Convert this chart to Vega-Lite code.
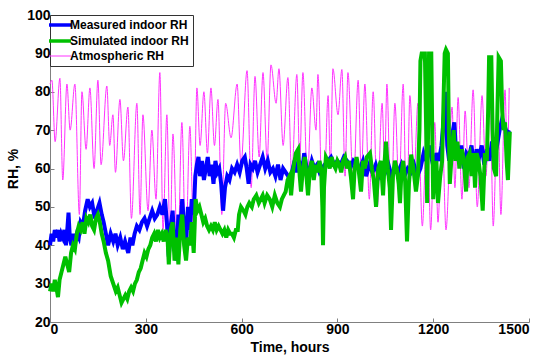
{
  "$schema": "https://vega.github.io/schema/vega-lite/v6.json",
  "width": 479,
  "height": 307,
  "autosize": {"type": "none"},
  "padding": {"left": 50, "top": 15, "right": 21, "bottom": 38},
  "background": "white",
  "config": {
    "view": {"stroke": null},
    "font": "Liberation Sans",
    "axis": {
      "grid": false,
      "domainColor": "#808080",
      "domainWidth": 1,
      "tickColor": "#808080",
      "tickSize": -4,
      "labelPadding": 4,
      "labelFont": "Liberation Sans",
      "labelFontSize": 14,
      "labelFontWeight": "bold",
      "labelColor": "black",
      "titleFont": "Liberation Sans",
      "titleFontSize": 14,
      "titleFontWeight": "bold",
      "titleColor": "black"
    }
  },
  "datasets": {
    "atm": [
      {"t":0,"v":82},{"t":6,"v":83},{"t":16,"v":67},{"t":31,"v":83.5},{"t":40,"v":57},{"t":53,"v":82},{"t":63,"v":70},{"t":78,"v":82},{"t":92,"v":48},{"t":100,"v":80},{"t":113,"v":65},{"t":125,"v":81},{"t":138,"v":60},{"t":150,"v":83},{"t":160,"v":61},{"t":178,"v":81.5},{"t":187,"v":66},{"t":197,"v":74},{"t":205,"v":59},{"t":219,"v":78},{"t":230,"v":62},{"t":244,"v":76},{"t":255,"v":47},{"t":272,"v":77},{"t":282,"v":48},{"t":291,"v":74},{"t":307,"v":49},{"t":319,"v":70},{"t":332,"v":52},{"t":344,"v":85},{"t":354,"v":44},{"t":366,"v":74},{"t":376,"v":40},{"t":385,"v":69},{"t":400,"v":36},{"t":413,"v":72},{"t":425,"v":38},{"t":438,"v":71},{"t":450,"v":42},{"t":460,"v":81},{"t":470,"v":66},{"t":482,"v":80},{"t":493,"v":64},{"t":504,"v":81},{"t":515,"v":66},{"t":526,"v":78},{"t":538,"v":48},{"t":550,"v":77},{"t":567,"v":68},{"t":586,"v":82},{"t":598,"v":61},{"t":617,"v":85.5},{"t":630,"v":55},{"t":642,"v":84},{"t":655,"v":63},{"t":667,"v":85},{"t":680,"v":62},{"t":692,"v":87},{"t":708,"v":77},{"t":717,"v":86},{"t":730,"v":66},{"t":745,"v":83.7},{"t":757,"v":58},{"t":773,"v":84.5},{"t":782,"v":62},{"t":792,"v":85},{"t":806,"v":57},{"t":820,"v":81},{"t":833,"v":70},{"t":839,"v":84.5},{"t":855,"v":43},{"t":871,"v":79},{"t":878,"v":60},{"t":886,"v":86},{"t":902,"v":74},{"t":914,"v":85.8},{"t":924,"v":58},{"t":933,"v":85},{"t":950,"v":55},{"t":965,"v":83},{"t":975,"v":58},{"t":986,"v":82},{"t":1000,"v":52},{"t":1012,"v":80},{"t":1025,"v":50},{"t":1040,"v":77},{"t":1048,"v":60},{"t":1055,"v":82},{"t":1068,"v":46},{"t":1080,"v":77},{"t":1093,"v":55},{"t":1106,"v":82},{"t":1117,"v":44},{"t":1127,"v":79},{"t":1140,"v":58},{"t":1152,"v":77},{"t":1166,"v":45},{"t":1181,"v":74.5},{"t":1192,"v":44},{"t":1205,"v":72},{"t":1215,"v":46},{"t":1228,"v":71},{"t":1240,"v":44},{"t":1259,"v":76},{"t":1268,"v":55},{"t":1278,"v":78.5},{"t":1290,"v":52},{"t":1300,"v":75},{"t":1312,"v":55},{"t":1325,"v":80.5},{"t":1338,"v":50},{"t":1353,"v":79},{"t":1365,"v":58},{"t":1378,"v":79},{"t":1388,"v":45},{"t":1402,"v":78},{"t":1412,"v":48},{"t":1425,"v":80.5},{"t":1432,"v":62},{"t":1438,"v":81}
    ],
    "meas": [
      {"t":0,"v":40},{"t":5,"v":43},{"t":10,"v":41},{"t":15,"v":44},{"t":20,"v":42},{"t":25,"v":44},{"t":30,"v":41},{"t":35,"v":43},{"t":40,"v":42},{"t":45,"v":44},{"t":50,"v":40},{"t":55,"v":45},{"t":58,"v":48.5},{"t":62,"v":42},{"t":67,"v":40},{"t":72,"v":43},{"t":78,"v":41},{"t":84,"v":43},{"t":90,"v":42},{"t":96,"v":46},{"t":103,"v":45},{"t":110,"v":49},{"t":118,"v":52},{"t":125,"v":50},{"t":132,"v":51},{"t":140,"v":47},{"t":147,"v":49},{"t":155,"v":51},{"t":162,"v":48},{"t":168,"v":46},{"t":175,"v":43},{"t":182,"v":40},{"t":190,"v":43},{"t":198,"v":41},{"t":205,"v":43},{"t":212,"v":40},{"t":220,"v":42},{"t":228,"v":39},{"t":235,"v":41},{"t":245,"v":38},{"t":252,"v":42},{"t":258,"v":40},{"t":265,"v":43},{"t":272,"v":45},{"t":280,"v":44},{"t":288,"v":46},{"t":296,"v":47},{"t":304,"v":45},{"t":312,"v":47},{"t":320,"v":49},{"t":328,"v":47},{"t":336,"v":48},{"t":344,"v":50},{"t":352,"v":48},{"t":360,"v":52},{"t":366,"v":46},{"t":372,"v":37},{"t":378,"v":45},{"t":384,"v":49},{"t":390,"v":40},{"t":396,"v":36},{"t":402,"v":48},{"t":408,"v":44},{"t":414,"v":52},{"t":420,"v":45},{"t":426,"v":40},{"t":432,"v":50},{"t":438,"v":44},{"t":444,"v":52},{"t":450,"v":48},{"t":455,"v":58},{"t":460,"v":61},{"t":465,"v":63},{"t":470,"v":58},{"t":476,"v":62},{"t":482,"v":57},{"t":488,"v":60},{"t":494,"v":63},{"t":500,"v":58},{"t":506,"v":61},{"t":512,"v":56},{"t":518,"v":62},{"t":524,"v":59},{"t":530,"v":60},{"t":536,"v":56},{"t":542,"v":49},{"t":548,"v":55},{"t":555,"v":58},{"t":562,"v":57},{"t":570,"v":60},{"t":578,"v":59},{"t":586,"v":61},{"t":594,"v":59},{"t":602,"v":62},{"t":610,"v":63},{"t":616,"v":60},{"t":622,"v":56},{"t":628,"v":61},{"t":635,"v":60},{"t":642,"v":62},{"t":650,"v":59},{"t":658,"v":61},{"t":666,"v":63},{"t":674,"v":60},{"t":682,"v":62},{"t":690,"v":59},{"t":698,"v":60},{"t":706,"v":58},{"t":714,"v":61},{"t":722,"v":57},{"t":730,"v":60},{"t":738,"v":59},{"t":746,"v":58},{"t":754,"v":56},{"t":760,"v":60},{"t":766,"v":62},{"t":772,"v":59},{"t":780,"v":62},{"t":788,"v":58},{"t":796,"v":64},{"t":804,"v":60},{"t":812,"v":59},{"t":820,"v":62},{"t":828,"v":60},{"t":836,"v":61},{"t":844,"v":59},{"t":852,"v":60},{"t":860,"v":61},{"t":870,"v":62},{"t":880,"v":63},{"t":890,"v":61},{"t":900,"v":62},{"t":910,"v":61},{"t":920,"v":63},{"t":930,"v":62},{"t":940,"v":60},{"t":950,"v":62},{"t":960,"v":61},{"t":970,"v":60},{"t":980,"v":62},{"t":990,"v":58},{"t":1000,"v":61},{"t":1010,"v":59},{"t":1020,"v":61},{"t":1030,"v":58},{"t":1040,"v":60},{"t":1050,"v":59},{"t":1060,"v":61},{"t":1070,"v":58},{"t":1080,"v":60},{"t":1090,"v":59},{"t":1100,"v":61},{"t":1110,"v":58},{"t":1120,"v":60},{"t":1130,"v":59},{"t":1140,"v":61},{"t":1150,"v":58},{"t":1160,"v":60},{"t":1170,"v":64},{"t":1178,"v":62},{"t":1186,"v":66},{"t":1194,"v":63},{"t":1202,"v":60},{"t":1210,"v":64},{"t":1218,"v":62},{"t":1226,"v":66},{"t":1232,"v":72},{"t":1238,"v":80},{"t":1244,"v":66},{"t":1250,"v":62},{"t":1258,"v":68},{"t":1266,"v":72},{"t":1272,"v":64},{"t":1280,"v":62},{"t":1288,"v":66},{"t":1296,"v":60},{"t":1304,"v":64},{"t":1312,"v":63},{"t":1320,"v":66},{"t":1328,"v":60},{"t":1336,"v":65},{"t":1344,"v":63},{"t":1352,"v":66},{"t":1360,"v":61},{"t":1368,"v":65},{"t":1376,"v":62},{"t":1384,"v":67},{"t":1392,"v":63},{"t":1400,"v":66},{"t":1408,"v":70},{"t":1416,"v":73},{"t":1424,"v":71},{"t":1432,"v":69},{"t":1438,"v":70}
    ],
    "sim": [
      {"t":0,"v":28},{"t":5,"v":30},{"t":10,"v":28},{"t":15,"v":31},{"t":20,"v":29},{"t":25,"v":26.5},{"t":30,"v":31},{"t":36,"v":33},{"t":42,"v":35},{"t":48,"v":37},{"t":54,"v":35},{"t":60,"v":33},{"t":66,"v":38},{"t":72,"v":40},{"t":78,"v":39},{"t":84,"v":43},{"t":90,"v":45},{"t":96,"v":44},{"t":102,"v":46},{"t":108,"v":43},{"t":114,"v":47},{"t":120,"v":46},{"t":126,"v":48},{"t":132,"v":45},{"t":138,"v":44},{"t":144,"v":47},{"t":150,"v":48},{"t":156,"v":46},{"t":162,"v":43},{"t":168,"v":41},{"t":175,"v":38},{"t":182,"v":36},{"t":190,"v":32},{"t":198,"v":30},{"t":206,"v":28},{"t":212,"v":29},{"t":218,"v":27},{"t":224,"v":25},{"t":230,"v":26},{"t":236,"v":27},{"t":242,"v":26},{"t":248,"v":28},{"t":254,"v":29},{"t":260,"v":28},{"t":266,"v":30},{"t":272,"v":31},{"t":278,"v":33},{"t":284,"v":34},{"t":290,"v":36},{"t":296,"v":38},{"t":302,"v":37},{"t":308,"v":39},{"t":314,"v":40},{"t":320,"v":42},{"t":326,"v":43},{"t":332,"v":41},{"t":338,"v":44},{"t":344,"v":42},{"t":350,"v":43},{"t":356,"v":41},{"t":362,"v":44},{"t":368,"v":42},{"t":372,"v":35},{"t":378,"v":44},{"t":384,"v":46},{"t":390,"v":36},{"t":396,"v":42},{"t":402,"v":35},{"t":408,"v":44},{"t":414,"v":48},{"t":420,"v":40},{"t":426,"v":36},{"t":432,"v":42},{"t":438,"v":40},{"t":444,"v":46},{"t":450,"v":38},{"t":456,"v":52},{"t":462,"v":49},{"t":468,"v":50},{"t":474,"v":48},{"t":480,"v":46},{"t":486,"v":47},{"t":492,"v":45},{"t":498,"v":44},{"t":504,"v":45},{"t":510,"v":44},{"t":516,"v":46},{"t":522,"v":44},{"t":528,"v":45},{"t":534,"v":44},{"t":540,"v":43},{"t":546,"v":44},{"t":552,"v":42},{"t":558,"v":44},{"t":564,"v":43},{"t":570,"v":43},{"t":576,"v":42},{"t":582,"v":44},{"t":588,"v":44},{"t":592,"v":48},{"t":598,"v":50},{"t":606,"v":49},{"t":612,"v":48},{"t":618,"v":50},{"t":624,"v":51},{"t":632,"v":50},{"t":638,"v":52},{"t":646,"v":53},{"t":654,"v":51},{"t":660,"v":52},{"t":666,"v":53},{"t":672,"v":51},{"t":680,"v":53},{"t":688,"v":52},{"t":696,"v":50},{"t":704,"v":53},{"t":712,"v":51},{"t":720,"v":50},{"t":726,"v":52},{"t":732,"v":53},{"t":738,"v":54},{"t":744,"v":57},{"t":750,"v":58},{"t":755,"v":53},{"t":762,"v":60},{"t":770,"v":64},{"t":777,"v":65},{"t":782,"v":58},{"t":786,"v":54},{"t":792,"v":60},{"t":798,"v":63},{"t":803,"v":58},{"t":808,"v":53},{"t":814,"v":60},{"t":820,"v":62},{"t":826,"v":57},{"t":832,"v":61},{"t":838,"v":59},{"t":844,"v":62},{"t":849,"v":60},{"t":853,"v":50},{"t":855,"v":40},{"t":858,"v":55},{"t":864,"v":63},{"t":870,"v":62},{"t":876,"v":60},{"t":882,"v":63},{"t":888,"v":61},{"t":894,"v":60},{"t":900,"v":62},{"t":906,"v":61},{"t":912,"v":59},{"t":918,"v":62},{"t":924,"v":63},{"t":930,"v":60},{"t":936,"v":62},{"t":942,"v":58},{"t":949,"v":52},{"t":954,"v":60},{"t":960,"v":63},{"t":966,"v":60},{"t":974,"v":54},{"t":980,"v":62},{"t":986,"v":60},{"t":992,"v":63},{"t":1002,"v":64},{"t":1008,"v":60},{"t":1014,"v":57},{"t":1021,"v":50},{"t":1028,"v":60},{"t":1036,"v":62},{"t":1043,"v":53},{"t":1048,"v":62},{"t":1052,"v":67},{"t":1058,"v":60},{"t":1064,"v":55},{"t":1068,"v":44},{"t":1074,"v":58},{"t":1080,"v":62},{"t":1086,"v":60},{"t":1092,"v":56},{"t":1096,"v":51},{"t":1100,"v":58},{"t":1106,"v":62},{"t":1112,"v":57},{"t":1118,"v":41},{"t":1124,"v":56},{"t":1131,"v":63.6},{"t":1138,"v":60},{"t":1146,"v":54},{"t":1152,"v":58},{"t":1157,"v":70},{"t":1160,"v":88},{"t":1164,"v":90},{"t":1174,"v":90},{"t":1178,"v":70},{"t":1181,"v":51},{"t":1184,"v":70},{"t":1187,"v":90},{"t":1194,"v":90},{"t":1197,"v":70},{"t":1200,"v":52},{"t":1206,"v":60},{"t":1210,"v":62},{"t":1215,"v":51},{"t":1222,"v":58},{"t":1228,"v":62},{"t":1233,"v":80},{"t":1236,"v":90},{"t":1240,"v":91},{"t":1246,"v":90},{"t":1249,"v":70},{"t":1252,"v":56},{"t":1258,"v":64},{"t":1264,"v":70},{"t":1270,"v":62},{"t":1276,"v":67},{"t":1282,"v":60},{"t":1290,"v":65},{"t":1296,"v":62},{"t":1303,"v":54},{"t":1308,"v":63},{"t":1314,"v":64},{"t":1320,"v":58},{"t":1326,"v":64},{"t":1331,"v":55},{"t":1336,"v":64},{"t":1342,"v":62},{"t":1348,"v":58},{"t":1355,"v":49},{"t":1362,"v":64},{"t":1368,"v":62},{"t":1372,"v":75},{"t":1375,"v":89},{"t":1382,"v":89},{"t":1386,"v":70},{"t":1390,"v":60},{"t":1397,"v":58},{"t":1401,"v":75},{"t":1405,"v":89},{"t":1412,"v":88},{"t":1416,"v":75},{"t":1420,"v":70},{"t":1425,"v":72},{"t":1430,"v":62},{"t":1434,"v":57},{"t":1440,"v":69.6}
    ]
  },
  "encoding": {
    "x": {
      "field": "t", "type": "quantitative",
      "scale": {"domain": [0, 1500], "nice": false},
      "axis": {"values": [0, 300, 600, 900, 1200, 1500], "format": "d", "title": "Time, hours", "titlePadding": 4}
    },
    "y": {
      "field": "v", "type": "quantitative",
      "scale": {"domain": [20, 100], "nice": false},
      "axis": {"values": [20, 30, 40, 50, 60, 70, 80, 90, 100], "title": "RH, %", "titlePadding": 6}
    }
  },
  "layer": [
    {
      "data": {"name": "atm"},
      "mark": {"type": "line", "strokeWidth": 1, "interpolate": "monotone"},
      "encoding": {
        "color": {"datum": "Atmospheric RH", "type": "nominal",
          "scale": {"domain": ["Measured indoor RH", "Simulated indoor RH", "Atmospheric RH"], "range": ["#0000FF", "#00C000", "#FF33FF"]},
          "legend": {
            "title": null, "orient": "top-left", "offset": 0,
            "padding": 4, "strokeColor": "#333333", "fillColor": "white",
            "symbolType": "stroke", "symbolSize": 484, "symbolStrokeWidth": 3,
            "labelFont": "Liberation Sans", "labelFontSize": 12, "labelFontWeight": "bold", "labelColor": "black",
            "rowPadding": 2,
            "encode": {"symbols": {"update": {"strokeWidth": {"signal": "datum.value === 'Atmospheric RH' ? 1 : 3.5"}}}}
          }
        }
      }
    },
    {
      "data": {"name": "meas"},
      "mark": {"type": "line", "strokeWidth": 4},
      "encoding": {"color": {"datum": "Measured indoor RH", "type": "nominal"}}
    },
    {
      "data": {"name": "sim"},
      "mark": {"type": "line", "strokeWidth": 4},
      "encoding": {"color": {"datum": "Simulated indoor RH", "type": "nominal"}}
    }
  ]
}
